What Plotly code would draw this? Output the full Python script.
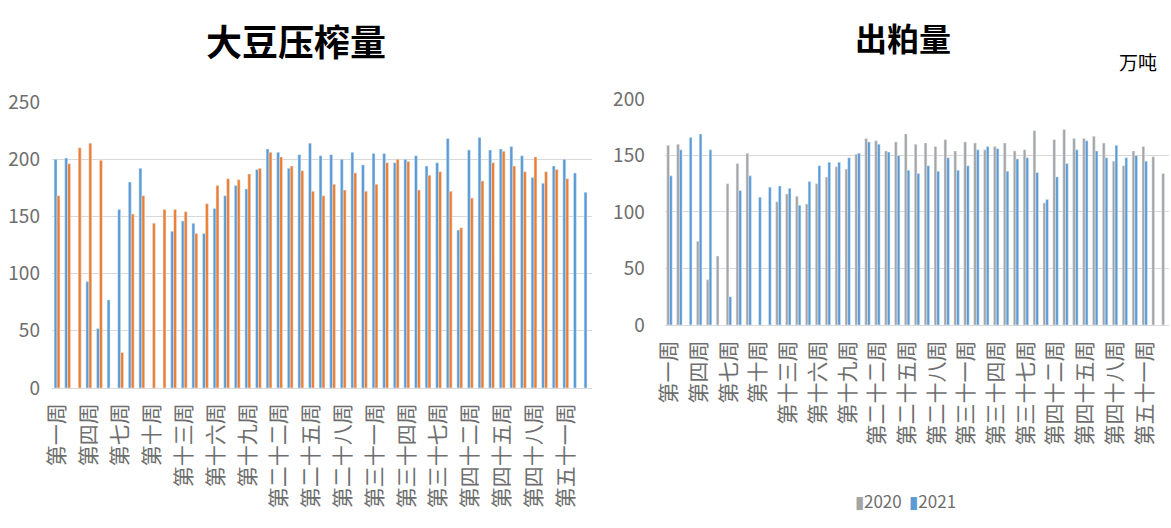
import plotly.graph_objects as go

# Week categories as listed in the source table (weeks 39-40 are absent)
weeks = [
    "第一周", "第二周", "第三周", "第四周", "第五周", "第六周", "第七周", "第八周", "第九周", "第十周",
    "第十一周", "第十二周", "第十三周", "第十四周", "第十五周", "第十六周", "第十七周", "第十八周", "第十九周", "第二十周",
    "第二十一周", "第二十二周", "第二十三周", "第二十四周", "第二十五周", "第二十六周", "第二十七周", "第二十八周", "第二十九周", "第三十周",
    "第三十一周", "第三十二周", "第三十三周", "第三十四周", "第三十五周", "第三十六周", "第三十七周", "第三十八周", "第四十一周", "第四十二周",
    "第四十三周", "第四十四周", "第四十五周", "第四十六周", "第四十七周", "第四十八周", "第四十九周", "第五十周", "第五十一周", "第五十二周",
    "第五十三周",
]
# Only every third category is labelled on the axis
tick_weeks = weeks[::3]

# Soybean crush volume (万吨)
crush_2020 = [200, 201, None, 93, 52, 77, 156, 180, 192, None, None, 137, 146, 144, 135, 157, 168, 177, 174, 191,
              209, 206, 192, 204, 214, 203, 204, 200, 206, 195, 205, 205, 197, 200, 203, 194, 197, 218, 138, 208,
              219, 208, 209, 211, 203, 184, 179, 194, 200, 188, 171]
crush_2021 = [168, 196, 210, 214, 199, None, 31, 152, 168, 144, 156, 156, 154, 135, 161, 177, 183, 182, 187, 192,
              206, 202, 194, 190, 172, 168, 178, 173, 188, 172, 178, 197, 200, 198, 173, 186, 189, 172, 140, 166,
              181, 197, 207, 194, 189, 202, 189, 191, 183, None, None]

# Soybean meal output (万吨)
meal_2020 = [159, 160, None, 74, 40, 61, 125, 143, 152, None, None, 109, 116, 114, 107, 125, 131, 140, 138, 151,
             165, 163, 154, 162, 169, 160, 161, 158, 164, 154, 162, 161, 155, 158, 161, 154, 155, 172, 108, 164,
             173, 165, 165, 167, 161, 145, 141, 154, 158, 149, 134]
meal_2021 = [132, 155, 166, 169, 155, None, 25, 119, 132, 113, 122, 123, 121, 106, 127, 141, 144, 144, 148, 152,
             162, 160, 153, 150, 137, 134, 141, 136, 148, 137, 141, 155, 158, 156, 136, 147, 148, 135, 111, 131,
             143, 155, 163, 154, 148, 159, 148, 150, 145, None, None]

BLUE = "#5B9BD5"
ORANGE = "#ED7D31"
GRAY = "#A5A5A5"
GRID = "#D9D9D9"
TEXT = "#6E6E6E"
CJK = "Noto Sans CJK SC"
NUM = "Liberation Sans Narrow, " + CJK

fig = go.Figure()

fig.add_trace(go.Bar(x=weeks, y=crush_2020, name="2020", marker_color=BLUE,
                     xaxis="x", yaxis="y"))
fig.add_trace(go.Bar(x=weeks, y=crush_2021, name="2021", marker_color=ORANGE,
                     xaxis="x", yaxis="y"))
fig.add_trace(go.Bar(x=weeks, y=meal_2020, name="2020", marker_color=GRAY,
                     xaxis="x2", yaxis="y2"))
fig.add_trace(go.Bar(x=weeks, y=meal_2021, name="2021", marker_color=BLUE,
                     xaxis="x2", yaxis="y2"))

xcommon = dict(
    type="category",
    categoryorder="array",
    categoryarray=weeks,
    tickmode="array",
    tickvals=tick_weeks,
    ticktext=tick_weeks,
    tickangle=-90,
    tickfont=dict(family=CJK, size=21, color=TEXT),
    showgrid=False,
    showline=True,
    linecolor=GRID,
    linewidth=1,
    ticks="outside",
    ticklen=6,
    tickcolor="rgba(0,0,0,0)",
    automargin=False,
)
ycommon = dict(
    tickfont=dict(family=NUM, size=19, color=TEXT),
    showgrid=True,
    gridcolor=GRID,
    gridwidth=1,
    zeroline=False,
    showline=False,
    ticks="outside",
    tickcolor="rgba(0,0,0,0)",
    automargin=False,
)

# Hand-built legend for the right-hand panel
legend_text = (
    f'<span style="color:{GRAY}">▮</span>2020  '
    f'<span style="color:{BLUE}">▮</span>2021'
)

fig.update_layout(
    width=1171,
    height=528,
    margin=dict(l=0, r=0, t=0, b=0, autoexpand=False),
    paper_bgcolor="white",
    plot_bgcolor="white",
    barmode="group",
    bargap=0.45,
    bargroupgap=0.0,
    showlegend=False,
    xaxis=dict(domain=[0.0442, 0.5058], anchor="y", **xcommon),
    yaxis=dict(domain=[0.2652, 0.8068], anchor="x", range=[0, 250], dtick=50, ticklen=7, **ycommon),
    xaxis2=dict(domain=[0.5675, 0.9987], anchor="y2", **xcommon),
    yaxis2=dict(domain=[0.3845, 0.8125], anchor="x2", range=[0, 200], dtick=50, ticklen=15, **ycommon),
    annotations=[
        dict(text="<b>大豆压榨量</b>", x=0.253, y=0.924, xref="paper", yref="paper",
             xanchor="center", yanchor="middle", showarrow=False,
             font=dict(family=CJK, size=36, color="#000000")),
        dict(text="<b>出粕量</b>", x=0.771, y=0.93, xref="paper", yref="paper",
             xanchor="center", yanchor="middle", showarrow=False,
             font=dict(family=CJK, size=32, color="#000000")),
        dict(text="万吨", x=0.99, y=0.884, xref="paper", yref="paper",
             xanchor="right", yanchor="middle", showarrow=False,
             font=dict(family=CJK, size=19, color="#000000")),
        dict(text=legend_text, x=0.773, y=0.053, xref="paper", yref="paper",
             xanchor="center", yanchor="middle", showarrow=False,
             font=dict(family=NUM, size=17, color=TEXT)),
    ],
)

fig.write_html("out.html")
